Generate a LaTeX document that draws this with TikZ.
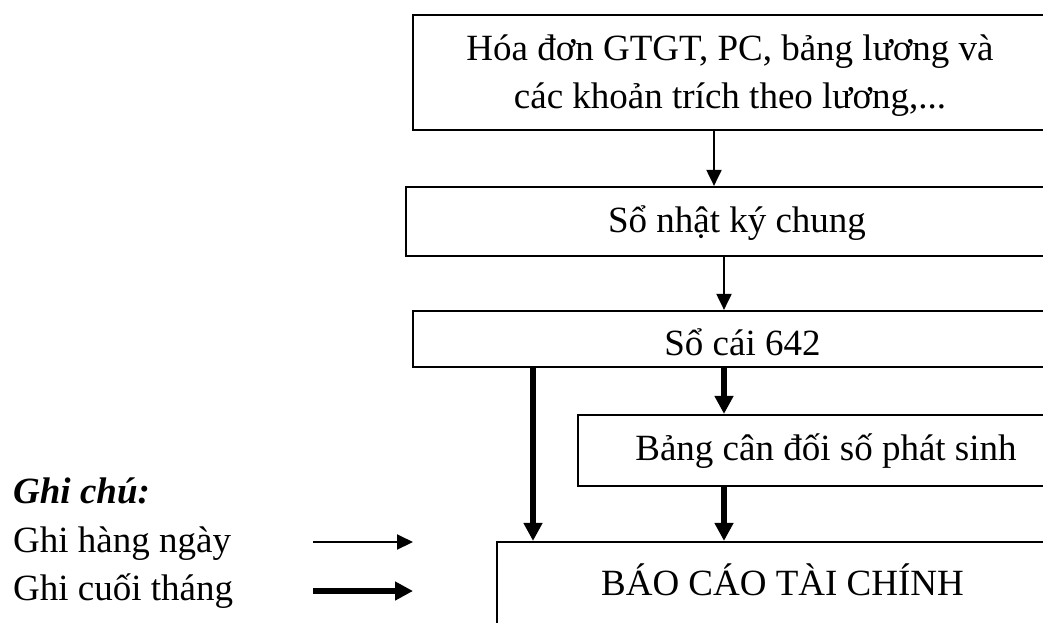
\documentclass[tikz,border=0pt]{standalone}
\usepackage{fontspec}
\setmainfont{Liberation Serif}
\usetikzlibrary{arrows.meta}

\begin{document}
\begin{tikzpicture}[x=1pt,y=-1pt,
  box/.style={draw,line width=2.2pt,rectangle,inner sep=0pt},
  txt/.style={anchor=base,inner sep=0pt,font=\fontsize{37}{44}\selectfont},
  thinarrow/.style={line width=2pt,-{Triangle[length=16pt,width=15pt]}},
  thickarrow/.style={line width=5.5pt,-{Triangle[length=18pt,width=18pt]}}]
\useasboundingbox (0,0) rectangle (1043,622);
\clip (0,0) rectangle (1043,622);

% boxes (their right parts run off the page)
\node[box,minimum width=634pt,minimum height=115pt] (b1) at (730,72.5) {};
\node[box,minimum width=662pt,minimum height=69pt]  (b2) at (737,221.5) {};
\node[box,minimum width=658pt,minimum height=56pt]  (b3) at (742,339) {};
\node[box,minimum width=496pt,minimum height=71pt]  (b4) at (826,450.5) {};
\node[box,minimum width=571pt,minimum height=82pt]  (b5) at (782.5,583) {};

% box texts
\node[txt] (t1a) at (730,60)  {Hóa đơn GTGT, PC, bảng lương và};
\node[txt] (t1b) at (730,108) {các khoản trích theo lương,...};
\node[txt] (t2)  at (737,232) {Sổ nhật ký chung};
\node[txt] (t3)  at (742.5,355) {Sổ cái 642};
\node[txt] (t4)  at (826,460) {Bảng cân đối số phát sinh};
\node[txt] (t5)  at (782.5,595) {BÁO CÁO TÀI CHÍNH};

% columns of the connectors
\coordinate (xa) at (714,0);
\coordinate (xb) at (724,0);
\coordinate (xc) at (533,0);

\draw[thinarrow]  (b1.south -| xa) -- (b2.north -| xa);
\draw[thinarrow]  (b2.south -| xb) -- (b3.north -| xb);
\draw[thickarrow] (b3.south -| xb) -- (b4.north -| xb);
\draw[thickarrow] (b3.south -| xc) -- (b5.north -| xc);
\draw[thickarrow] (b4.south -| xb) -- (b5.north -| xb);

% legend
\node[txt,anchor=base west] (lg)  at (13,503) {\textbf{\textit{Ghi chú:}}};
\node[txt,anchor=base west] (lg1) at (13,552) {Ghi hàng ngày};
\node[txt,anchor=base west] (lg2) at (13,600) {Ghi cuối tháng};
\coordinate (l1s) at (313,542);
\coordinate (l1e) at (413,542);
\coordinate (l2s) at (313,591);
\coordinate (l2e) at (413,591);
\draw[thinarrow]  (l1s) -- (l1e);
\draw[thickarrow] (l2s) -- (l2e);
\end{tikzpicture}
\end{document}
